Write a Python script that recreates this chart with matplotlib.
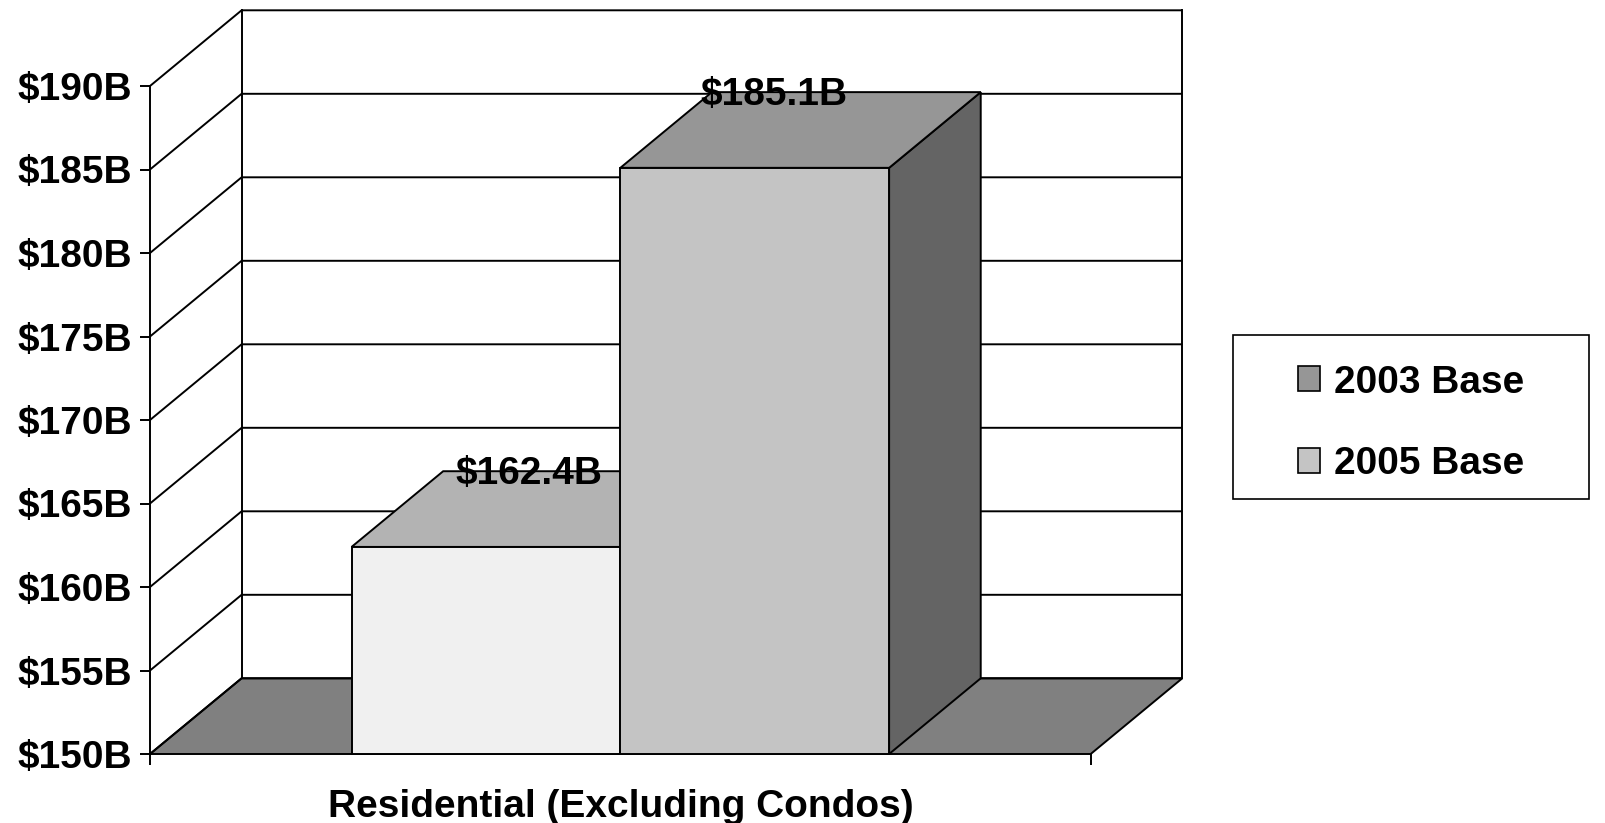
import matplotlib.pyplot as plt
from matplotlib.patches import Polygon, Rectangle, Patch

plt.rcParams['font.family'] = ['Liberation Sans', 'DejaVu Sans']
plt.rcParams['font.weight'] = 'bold'

# data
category = "Residential (Excluding Condos)"
series = ["2003 Base", "2005 Base"]
values = [162.4, 185.1]
value_labels = ["$162.4B", "$185.1B"]
y_ticks = [150, 155, 160, 165, 170, 175, 180, 185, 190]

# styles
front_colors = ["#f0f0f0", "#c4c4c4"]
top_colors = ["#b3b3b3", "#969696"]
side_colors = ["#8a8a8a", "#646464"]
legend_colors = ["#969696", "#c4c4c4"]
label_nudge = [0.47, 0.21]   # label shift, as a fraction of the depth offset
floor_color = "#808080"
lw = 1.4
fs = 28

W, H = 1606, 823
fig = plt.figure(figsize=(W / 100, H / 100), dpi=100)
ax = fig.add_axes([150 / W, 1 - 754 / H, 940.7 / W, 668 / H])
ymin, ymax = y_ticks[0], y_ticks[-1]
ax.set_xlim(0, 1)
ax.set_ylim(ymin, ymax)

# oblique depth offset in data units
dx = 91.6 / 940.7
dy = 75.7 / (668 / (ymax - ymin))

# floor
ax.add_patch(Polygon([(0, ymin), (1, ymin), (1 + dx, ymin + dy), (dx, ymin + dy)],
                     facecolor=floor_color, edgecolor='black', lw=lw, zorder=1, clip_on=False))

# side wall + back wall grid
for v in y_ticks:
    ax.plot([0, dx, 1 + dx], [v, v + dy, v + dy], color='black', lw=lw, zorder=1.5,
            clip_on=False, solid_capstyle='butt')
for xx in (dx, 1 + dx):
    ax.plot([xx, xx], [ymin + dy, ymax + dy], color='black', lw=lw, zorder=1.5, clip_on=False)

# bars
n = len(values)
bw = 1 / (n + 1.5)
gap = 0.75 * bw
for i, v in enumerate(values):
    x0 = gap + i * bw
    ax.add_patch(Polygon([(x0 + bw, ymin), (x0 + bw + dx, ymin + dy), (x0 + bw + dx, v + dy), (x0 + bw, v)],
                         facecolor=side_colors[i], edgecolor='black', lw=lw, zorder=3 + i, clip_on=False))
    ax.add_patch(Polygon([(x0, v), (x0 + bw, v), (x0 + bw + dx, v + dy), (x0 + dx, v + dy)],
                         facecolor=top_colors[i], edgecolor='black', lw=lw, zorder=3 + i, clip_on=False))
    ax.add_patch(Rectangle((x0, ymin), bw, v - ymin, facecolor=front_colors[i],
                           edgecolor='black', lw=lw, zorder=3 + i, clip_on=False))
    ax.text(x0 + bw / 2 + label_nudge[i] * dx, v + dy - 0.15, value_labels[i], ha='center',
            va='center', fontsize=fs, fontweight='bold', zorder=10)

# axes
for s in ('top', 'right', 'bottom'):
    ax.spines[s].set_visible(False)
ax.spines['left'].set_linewidth(lw)
ax.set_yticks(y_ticks, [f"${v}B" for v in y_ticks])
ax.tick_params(axis='y', direction='out', length=7.2, width=lw, pad=6, labelsize=fs)
ax.set_xticks([0, 1], ["", ""])
ax.tick_params(axis='x', direction='out', length=8, width=lw)
ax.set_xlabel(category, fontsize=fs, fontweight='bold', va='center')
ax.xaxis.set_label_coords(0.5, -(807 - 754) / 668)
ax.patch.set_visible(False)

# legend
handles = [Patch(facecolor=c, edgecolor='black', lw=1.2, label=s)
           for s, c in zip(series, legend_colors)]
fig.legend(handles=handles, loc='upper left', bbox_to_anchor=(1298.3 / W, 1 - 364.5 / H),
           frameon=False, fontsize=fs, handlelength=0.57, handleheight=0.6,
           handletextpad=0.34, labelspacing=1.17, borderpad=0, borderaxespad=0)
fig.add_artist(Rectangle((1232.7 / W, 1 - 499 / H), 356.3 / W, 164 / H,
                         transform=fig.transFigure, fill=False, ec='black', lw=1.2))

fig.savefig("out.png", dpi=100)
